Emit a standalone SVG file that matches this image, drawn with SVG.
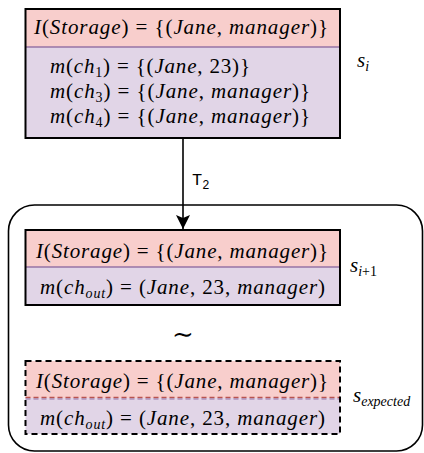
<svg xmlns="http://www.w3.org/2000/svg" width="424" height="453" viewBox="0 0 424 453">
<defs>
<style>
.m{font-family:"Liberation Serif","Times New Roman",serif;font-size:21px;font-style:italic;fill:#000}
.u{font-style:normal}
.sb{font-size:14px}
.hdr{fill:#f8cecc}
.bdy{fill:#e1d5e7}
.sep{stroke:#9673a6;stroke-width:1.5}
.frame{fill:none;stroke:#000;stroke-width:2}
.dash{stroke-dasharray:6 4}
.lab{font-family:"Liberation Serif","Times New Roman",serif;font-size:21px;font-style:italic}
</style>
<marker id="ah" markerWidth="16" markerHeight="16" refX="14" refY="8" orient="auto" markerUnits="userSpaceOnUse">
<path d="M0,1 L14,8 L0,15 L3,8 Z" fill="#000"/>
</marker>
</defs>

<g id="container">
<rect x="8.5" y="205" width="414" height="246" rx="26" ry="26" fill="none" stroke="#000" stroke-width="1.6"/>
</g>

<g id="connectors">
<path d="M183,138 L183,229" stroke="#000" stroke-width="1.6" fill="none" marker-end="url(#ah)"/>
<text x="192" y="185" font-family="Liberation Mono, DejaVu Sans Mono, monospace" font-size="17">T<tspan font-size="12" dy="4">2</tspan></text>
</g>

<g id="s_i">
<rect class="hdr" x="25.5" y="9" width="314.5" height="38"/>
<rect class="bdy" x="25.5" y="47" width="314.5" height="91"/>
<line class="sep" x1="25.5" y1="47" x2="340" y2="47"/>
<rect class="frame" x="25.5" y="9" width="314.5" height="129"/>
<text class="m" x="34" y="34" textLength="294" lengthAdjust="spacing">I<tspan class="u">(</tspan>Storage<tspan class="u">) = {(</tspan>Jane<tspan class="u">, </tspan>manager<tspan class="u">)}</tspan></text>
<text class="m" x="50" y="73" textLength="200" lengthAdjust="spacing">m<tspan class="u">(</tspan>ch<tspan class="u sb" dy="4">1</tspan><tspan class="u" dy="-4">) = {(</tspan>Jane<tspan class="u">, 23)}</tspan></text>
<text class="m" x="50" y="98" textLength="260" lengthAdjust="spacing">m<tspan class="u">(</tspan>ch<tspan class="u sb" dy="4">3</tspan><tspan class="u" dy="-4">) = {(</tspan>Jane<tspan class="u">, </tspan>manager<tspan class="u">)}</tspan></text>
<text class="m" x="50" y="123" textLength="260" lengthAdjust="spacing">m<tspan class="u">(</tspan>ch<tspan class="u sb" dy="4">4</tspan><tspan class="u" dy="-4">) = {(</tspan>Jane<tspan class="u">, </tspan>manager<tspan class="u">)}</tspan></text>
<text class="lab" x="357" y="67">s<tspan class="sb" dy="4">i</tspan></text>
</g>

<g id="s_i1">
<rect class="hdr" x="25.5" y="230" width="314.5" height="37"/>
<rect class="bdy" x="25.5" y="267" width="314.5" height="38"/>
<line class="sep" x1="25.5" y1="267" x2="340" y2="267"/>
<rect class="frame" x="25.5" y="230" width="314.5" height="75"/>
<text class="m" x="36" y="258" textLength="292" lengthAdjust="spacing">I<tspan class="u">(</tspan>Storage<tspan class="u">) = {(</tspan>Jane<tspan class="u">, </tspan>manager<tspan class="u">)}</tspan></text>
<text class="m" x="40" y="294" textLength="285" lengthAdjust="spacing">m<tspan class="u">(</tspan>ch<tspan class="sb" dy="4">out</tspan><tspan class="u" dy="-4">) = (</tspan>Jane<tspan class="u">, 23, </tspan>manager<tspan class="u">)</tspan></text>
<text class="lab" x="350" y="272">s<tspan class="sb" dy="4">i</tspan><tspan class="sb u">+1</tspan></text>
</g>

<g id="tilde">
<text x="183" y="343" text-anchor="middle" font-family="DejaVu Serif, serif" font-size="26">∼</text>
</g>

<g id="s_expected">
<rect class="hdr" x="25.5" y="361" width="314.5" height="37"/>
<rect class="bdy" x="25.5" y="398" width="314.5" height="36"/>
<line x1="25.5" y1="397.5" x2="340" y2="397.5" stroke="#b85450" stroke-width="1.3" stroke-dasharray="5 3"/>
<line x1="25.5" y1="399" x2="340" y2="399" stroke="#9673a6" stroke-width="1" stroke-dasharray="5 3"/>
<rect class="frame dash" x="25.5" y="361" width="314.5" height="73"/>
<text class="m" x="36" y="388" textLength="292" lengthAdjust="spacing">I<tspan class="u">(</tspan>Storage<tspan class="u">) = {(</tspan>Jane<tspan class="u">, </tspan>manager<tspan class="u">)}</tspan></text>
<text class="m" x="40" y="425" textLength="285" lengthAdjust="spacing">m<tspan class="u">(</tspan>ch<tspan class="sb" dy="4">out</tspan><tspan class="u" dy="-4">) = (</tspan>Jane<tspan class="u">, 23, </tspan>manager<tspan class="u">)</tspan></text>
<text class="lab" x="353" y="402">s<tspan class="sb" dy="4">expected</tspan></text>
</g>
</svg>
